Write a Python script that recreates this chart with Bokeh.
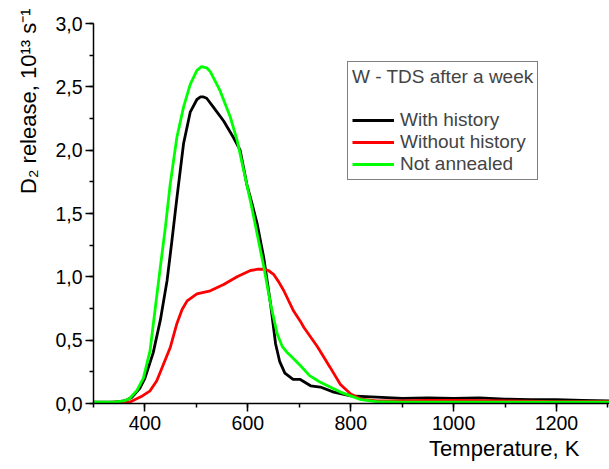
from bokeh.plotting import figure
from bokeh.models import (ColumnDataSource, SingleIntervalTicker, CustomJSTickFormatter,
                          Legend, LegendItem, Title, Range1d)
from bokeh.embed import file_html
from bokeh.resources import INLINE

# ---- data ----
t_with = [300, 340, 360, 375, 390, 400, 416, 430, 443, 452, 462, 475, 488, 501, 508, 514,
          520, 533, 553, 572, 585, 598, 608, 618, 631, 644, 654, 662, 672, 688, 702, 722,
          741, 767, 800, 850, 900, 950, 1000, 1050, 1100, 1150, 1200, 1250, 1303]
v_with = [0.01, 0.01, 0.02, 0.05, 0.12, 0.20, 0.40, 0.66, 0.97, 1.27, 1.62, 2.05, 2.30, 2.40, 2.42, 2.42,
          2.41, 2.34, 2.23, 2.10, 2.00, 1.73, 1.58, 1.42, 1.15, 0.79, 0.47, 0.33, 0.24, 0.19, 0.19, 0.14,
          0.13, 0.09, 0.06, 0.05, 0.04, 0.045, 0.04, 0.045, 0.035, 0.03, 0.03, 0.025, 0.02]

t_without = [300, 340, 370, 380, 395, 410, 423, 435, 449, 462, 472, 482, 501, 527, 553, 579, 605,
             620, 631, 640, 650, 660, 670, 689, 702, 709, 735, 760, 780, 800, 820, 850, 900, 950,
             1000, 1100, 1200, 1303]
v_without = [0.0, 0.01, 0.01, 0.03, 0.06, 0.10, 0.18, 0.30, 0.44, 0.63, 0.74, 0.81, 0.865, 0.89, 0.94, 1.00, 1.05,
             1.06, 1.06, 1.05, 1.02, 0.96, 0.89, 0.73, 0.65, 0.60, 0.45, 0.285, 0.15, 0.075, 0.035, 0.02, 0.02, 0.025,
             0.025, 0.02, 0.015, 0.015]

t_not = [300, 340, 360, 370, 384, 397, 410, 420, 430, 440, 449, 462, 475, 488, 501, 510, 520, 527,
         546, 566, 579, 592, 605, 618, 631, 644, 657, 667, 677, 690, 702, 720, 740, 760, 780, 800,
         820, 850, 900, 1000, 1100, 1200, 1303]
v_not = [0.01, 0.01, 0.02, 0.04, 0.10, 0.20, 0.42, 0.75, 1.08, 1.40, 1.73, 2.10, 2.34, 2.52, 2.63, 2.66, 2.65, 2.62,
         2.47, 2.26, 2.08, 1.84, 1.60, 1.34, 1.08, 0.79, 0.55, 0.45, 0.40, 0.35, 0.30, 0.22, 0.17, 0.13, 0.09, 0.06,
         0.03, 0.015, 0.01, 0.01, 0.01, 0.01, 0.01]

series_names = ["With history", "Without history", "Not annealed"]
series_colors = ["#000000", "#ff0000", "#00ff00"]
legend_title = "W - TDS after a week"
x_title = "Temperature, K"
y_title = "D\u2082 release, 10\u00b9\u00b3 s\u207b\u00b9"

FONT = "Liberation Sans"

p = figure(width=609, height=469, frame_width=516, frame_height=380,
           x_range=Range1d(300, 1303), y_range=Range1d(0, 3.0),
           output_backend="svg", toolbar_location=None,
           min_border_left=93, min_border_right=0, min_border_top=23, min_border_bottom=66)
p.outline_line_color = None
p.xgrid.visible = False
p.ygrid.visible = False
p.background_fill_color = "white"

p.xaxis.ticker = SingleIntervalTicker(interval=200, num_minor_ticks=2)
p.yaxis.ticker = SingleIntervalTicker(interval=0.5, num_minor_ticks=2)
p.yaxis.formatter = CustomJSTickFormatter(code="return tick.toFixed(1).replace('.', ',');")
p.xaxis.formatter = CustomJSTickFormatter(code="return tick.toFixed(0);")
for ax in (p.xaxis, p.yaxis):
    ax.axis_line_color = "black"
    ax.axis_line_width = 1.5
    ax.major_tick_line_color = "black"
    ax.major_tick_line_width = 1.5
    ax.minor_tick_line_color = "black"
    ax.minor_tick_line_width = 1.5
    ax.major_tick_in = 0
    ax.major_tick_out = 8
    ax.minor_tick_in = 0
    ax.minor_tick_out = 4
    ax.major_label_text_font = FONT
    ax.major_label_text_font_size = "19.5px"
    ax.major_label_text_color = "black"
p.xaxis.major_label_standoff = 4
p.yaxis.major_label_standoff = 3

renderers = []
for t, v, c in [(t_with, v_with, series_colors[0]),
                (t_without, v_without, series_colors[1]),
                (t_not, v_not, series_colors[2])]:
    src = ColumnDataSource(dict(t=t, v=v))
    r = p.line("t", "v", source=src, line_color=c, line_width=2.8)
    renderers.append(r)

items = [LegendItem(label=n, renderers=[r]) for n, r in zip(series_names, renderers)]
legend = Legend(items=items, location=(254, 223), title=legend_title,
                title_text_font=FONT, title_text_font_size="19px", title_text_font_style="normal",
                title_standoff=21,
                label_text_font=FONT, label_text_font_size="19px",
                glyph_width=42, glyph_height=20, label_height=20, label_standoff=6,
                spacing=0, padding=4, margin=0,
                border_line_color="black", border_line_width=1,
                background_fill_color="white", background_fill_alpha=1.0)
p.add_layout(legend, "center")

p.add_layout(Title(text=x_title, align="right", offset=30, standoff=2,
                   text_font=FONT, text_font_size="22px", text_font_style="normal",
                   text_color="black"), "below")
p.add_layout(Title(text=y_title, align="right", offset=-15, standoff=24,
                   text_font=FONT, text_font_size="22px", text_font_style="normal",
                   text_color="black"), "left")

open("out.html", "w").write(file_html(p, INLINE))
